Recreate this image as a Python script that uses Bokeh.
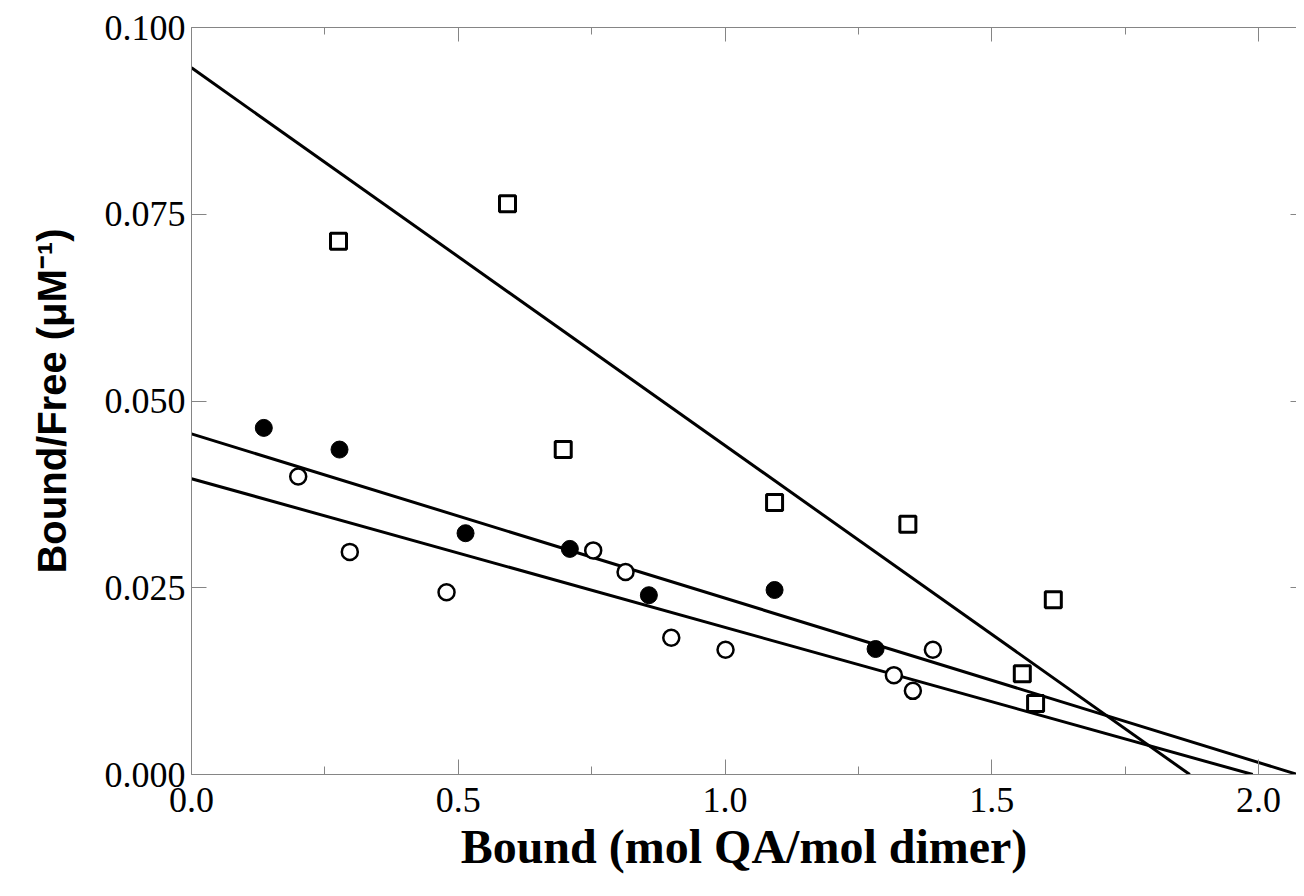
from bokeh.plotting import figure
from bokeh.models import LinearAxis, PrintfTickFormatter, CustomJSTickFormatter, Range1d, FixedTicker
from bokeh.embed import file_html
from bokeh.resources import INLINE

# ---- data ----
filled_x = [0.1355, 0.2774, 0.5136, 0.7091, 0.8572, 1.0928, 1.2821]
filled_y = [0.0464, 0.0435, 0.0323, 0.0302, 0.0240, 0.0247, 0.0168]

open_x = [0.2000, 0.2967, 0.4780, 0.7529, 0.8135, 0.8992, 1.0009, 1.3164, 1.3520, 1.3895]
open_y = [0.0399, 0.0298, 0.0244, 0.0300, 0.0271, 0.0183, 0.0167, 0.0133, 0.0112, 0.0167]

square_x = [0.2755, 0.5923, 0.6967, 1.0928, 1.3426, 1.6152, 1.5571, 1.5820]
square_y = [0.0714, 0.0764, 0.0435, 0.0364, 0.0335, 0.0234, 0.0135, 0.0095]

# fitted lines: (y-intercept, x-intercept)
fit_filled = (0.0456, 2.073)
fit_open = (0.0396, 1.989)
fit_square = (0.0946, 1.871)

x_ticks = [0.0, 0.5, 1.0, 1.5, 2.0]
x_minor = [0.25, 0.75, 1.25, 1.75]
y_ticks = [0.000, 0.025, 0.050, 0.075, 0.100]

x_title = "Bound (mol QA/mol dimer)"
y_title = "Bound/Free (\u03bcM\u207b\u00b9)"

GRAY = "#858585"
SERIF = "Liberation Serif"
SANS = "Liberation Sans"
W, H = 1296, 888

p = figure(width=W, height=H, output_backend="svg", toolbar_location=None,
           x_range=Range1d(0, 2.071), y_range=Range1d(0, 0.1),
           x_axis_location=None, y_axis_location=None,
           min_border_left=191, min_border_right=0, min_border_top=27, min_border_bottom=114)
p.outline_line_color = None
p.xgrid.visible = False
p.ygrid.visible = False
p.background_fill_color = "white"
p.border_fill_color = "white"

def style(ax, labels=True, minor=True, tick_in=15, minor_in=8):
    ax.axis_line_color = GRAY
    ax.axis_line_width = 1
    ax.major_tick_line_color = GRAY
    ax.minor_tick_line_color = GRAY if minor else None
    ax.major_tick_in = tick_in
    ax.major_tick_out = 0
    ax.minor_tick_in = minor_in
    ax.minor_tick_out = 0
    ax.major_label_text_font = SERIF
    ax.major_label_text_font_size = "36px"
    ax.major_label_text_color = "black"
    ax.axis_label_text_color = "black"
    ax.axis_label_text_font_style = "bold"
    if not labels:
        ax.formatter = CustomJSTickFormatter(code="return ''")
        ax.major_label_standoff = 0

bottom = LinearAxis(ticker=FixedTicker(ticks=x_ticks, minor_ticks=x_minor),
                    formatter=PrintfTickFormatter(format="%.1f"), axis_label=x_title)
style(bottom)
bottom.major_label_standoff = 13
bottom.axis_label_text_font = SERIF
bottom.axis_label_text_font_size = "48px"
bottom.axis_label_standoff = 5
p.add_layout(bottom, "below")

left = LinearAxis(ticker=FixedTicker(ticks=y_ticks, minor_ticks=[]),
                  formatter=PrintfTickFormatter(format="%.3f"), axis_label=y_title)
style(left, minor=False)
left.major_label_standoff = 6
left.axis_label_text_font = SANS
left.axis_label_text_font_size = "40px"
left.axis_label_standoff = 28
p.add_layout(left, "left")

top = LinearAxis(ticker=FixedTicker(ticks=x_ticks, minor_ticks=x_minor))
style(top, labels=False, tick_in=14, minor_in=7)
p.add_layout(top, "above")

right = LinearAxis(ticker=FixedTicker(ticks=y_ticks, minor_ticks=[]))
style(right, labels=False, minor=False, tick_in=6)
right.axis_line_color = None
p.add_layout(right, "right")

# fit lines
for b, xi in (fit_square, fit_filled, fit_open):
    p.line([0, xi], [b, 0], line_color="black", line_width=3)

# markers
p.scatter(filled_x, filled_y, marker="circle", size=17, fill_color="black", line_color="black", line_width=1)
p.scatter(open_x, open_y, marker="circle", size=16, fill_color="white", line_color="black", line_width=2.5)
p.scatter(square_x, square_y, marker="square", size=16, fill_color="white", line_color="black", line_width=3)

open("out.html", "w").write(file_html(p, INLINE))
